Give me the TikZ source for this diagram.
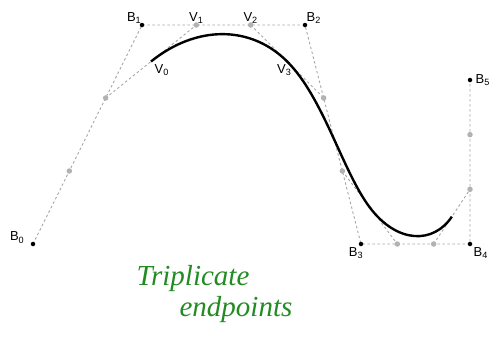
\documentclass[tikz,border=0pt]{standalone}
\usepackage{fontspec}
\setmainfont{Liberation Sans}
\newfontfamily\handfont{Liberation Serif}
\usetikzlibrary{calc}
\definecolor{penGreen}{RGB}{34,139,34}

\begin{document}
\begin{tikzpicture}
[
	x=1pt, y=-1pt,
	ctrlpt/.style={circle,fill=black,inner sep=0pt,minimum size=4.5pt},
	thirdpt/.style={circle,fill=gray!60,inner sep=0pt,minimum size=5.5pt},
	guide/.style={gray!70,dash pattern=on 2.5pt off 2.5pt,line width=0.9pt},
	lbl/.style={font=\fontsize{13}{15}\selectfont,inner sep=1.5pt},
	hand/.style={penGreen,font=\handfont\itshape\fontsize{29}{31}\selectfont}
]
	\useasboundingbox (0,0) rectangle (489,341);

	% control points
	\coordinate (B0) at (33,244);
	\coordinate (B1) at (142,25);
	\coordinate (B2) at (305,25);
	\coordinate (B3) at (361,244);
	\coordinate (B4) at (470,244);
	\coordinate (B5) at (470,80);

	% thirds of each leg
	\coordinate (T01a) at ($(B0)!1/3!(B1)$);
	\coordinate (T01b) at ($(B0)!2/3!(B1)$);
	\coordinate (T12a) at ($(B1)!1/3!(B2)$);
	\coordinate (T12b) at ($(B1)!2/3!(B2)$);
	\coordinate (T23a) at ($(B2)!1/3!(B3)$);
	\coordinate (T23b) at ($(B2)!2/3!(B3)$);
	\coordinate (T34a) at ($(B3)!1/3!(B4)$);
	\coordinate (T34b) at ($(B3)!2/3!(B4)$);
	\coordinate (T45a) at ($(B4)!1/3!(B5)$);
	\coordinate (T45b) at ($(B4)!2/3!(B5)$);

	% joints of the curve
	\coordinate (V0) at ($(T01b)!0.5!(T12a)$);
	\coordinate (V3) at ($(T12b)!0.5!(T23a)$);
	\coordinate (V4) at ($(T23b)!0.5!(T34a)$);
	\coordinate (V5) at ($(T34b)!0.5!(T45a)$);

	% guides
	\draw[guide] (B0) -- (B1) -- (B2) -- (B3) -- (B4) -- (B5);
	\draw[guide] (T01b) -- (T12a);
	\draw[guide] (T12b) -- (T23a);
	\draw[guide] (T23b) -- (T34a);
	\draw[guide] (T34b) -- (T45a);

	% dots
	\foreach \p in {T01a,T01b,T12a,T12b,T23a,T23b,T34a,T34b,T45a,T45b}
		\node[thirdpt] at (\p) {};
	\foreach \p in {V3,V4}
		\node[thirdpt,minimum size=3pt] at (\p) {};
	\foreach \p in {B0,B1,B2,B3,B4,B5}
		\node[ctrlpt] at (\p) {};

	% curve
	\draw[line width=2.4pt] (V0) .. controls (T12a) and (T12b) .. (V3)
		.. controls (T23a) and (T23b) .. (V4)
		.. controls (T34a) and (T34b) .. (V5);

	% labels
	\node[lbl, above left] (lB0) at ($(B0)+(-7,1)$) {B\textsubscript{0}};
	\node[lbl, above left] (lB1) at ($(B1)+(1,0)$) {B\textsubscript{1}};
	\node[lbl, above right] (lB2) at ($(B2)+(0,0)$) {B\textsubscript{2}};
	\node[lbl, below] (lB3) at ($(B3)+(-5,2)$) {B\textsubscript{3}};
	\node[lbl, below right] (lB4) at ($(B4)+(2,2)$) {B\textsubscript{4}};
	\node[lbl, right] (lB5) at ($(B5)+(4,0)$) {B\textsubscript{5}};
	\node[lbl, above] (lV1) at (T12a) {V\textsubscript{1}};
	\node[lbl, above] (lV2) at (T12b) {V\textsubscript{2}};
	\node[lbl, below right] (lV0) at ($(V0)+(2,1)$) {V\textsubscript{0}};
	\node[lbl, below left] (lV3) at ($(V3)+(6,1)$) {V\textsubscript{3}};

	% note
	\node[hand] (note1) at (193,279) {Triplicate};
	\node[hand] (note2) at (236,310) {endpoints};

\end{tikzpicture}
\end{document}
